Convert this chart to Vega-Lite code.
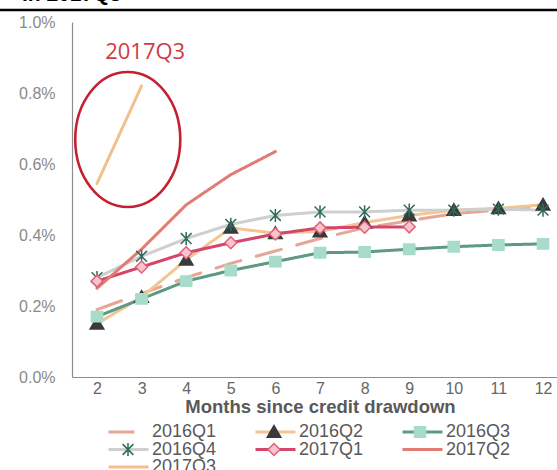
{
  "$schema": "https://vega.github.io/schema/vega-lite/v6.json",
  "width": 496,
  "height": 355,
  "autosize": {"type": "none"},
  "padding": {"left": 72, "top": 22, "right": 0, "bottom": 93},
  "background": "white",
  "config": {"view": {"stroke": null}, "font": "Liberation Sans"},
  "title": {
    "text": "in 2017Q3",
    "anchor": "start",
    "frame": "group",
    "font": "Liberation Sans",
    "fontSize": 21,
    "fontWeight": "bold",
    "color": "#000000",
    "baseline": "alphabetic",
    "offset": 3,
    "dx": -50,
    "dy": 16
  },
  "datasets": {
    "rates": [
      {"series": "2016Q1", "month": 2, "rate": 0.0019},
      {"series": "2016Q1", "month": 3, "rate": 0.00235},
      {"series": "2016Q1", "month": 4, "rate": 0.0028},
      {"series": "2016Q1", "month": 5, "rate": 0.0032},
      {"series": "2016Q1", "month": 6, "rate": 0.00355},
      {"series": "2016Q1", "month": 7, "rate": 0.0039},
      {"series": "2016Q1", "month": 8, "rate": 0.0042},
      {"series": "2016Q1", "month": 9, "rate": 0.0044},
      {"series": "2016Q1", "month": 10, "rate": 0.0046},
      {"series": "2016Q1", "month": 11, "rate": 0.0047},
      {"series": "2016Q1", "month": 12, "rate": 0.0048},
      {"series": "2016Q2", "month": 2, "rate": 0.0015},
      {"series": "2016Q2", "month": 3, "rate": 0.00225},
      {"series": "2016Q2", "month": 4, "rate": 0.0033},
      {"series": "2016Q2", "month": 5, "rate": 0.0042},
      {"series": "2016Q2", "month": 6, "rate": 0.00405},
      {"series": "2016Q2", "month": 7, "rate": 0.0041},
      {"series": "2016Q2", "month": 8, "rate": 0.00435},
      {"series": "2016Q2", "month": 9, "rate": 0.00455},
      {"series": "2016Q2", "month": 10, "rate": 0.0047},
      {"series": "2016Q2", "month": 11, "rate": 0.00475},
      {"series": "2016Q2", "month": 12, "rate": 0.00485},
      {"series": "2016Q3", "month": 2, "rate": 0.0017},
      {"series": "2016Q3", "month": 3, "rate": 0.0022},
      {"series": "2016Q3", "month": 4, "rate": 0.0027},
      {"series": "2016Q3", "month": 5, "rate": 0.003},
      {"series": "2016Q3", "month": 6, "rate": 0.00325},
      {"series": "2016Q3", "month": 7, "rate": 0.0035},
      {"series": "2016Q3", "month": 8, "rate": 0.00352},
      {"series": "2016Q3", "month": 9, "rate": 0.0036},
      {"series": "2016Q3", "month": 10, "rate": 0.00367},
      {"series": "2016Q3", "month": 11, "rate": 0.00372},
      {"series": "2016Q3", "month": 12, "rate": 0.00375},
      {"series": "2016Q4", "month": 2, "rate": 0.0028},
      {"series": "2016Q4", "month": 3, "rate": 0.0034},
      {"series": "2016Q4", "month": 4, "rate": 0.0039},
      {"series": "2016Q4", "month": 5, "rate": 0.0043},
      {"series": "2016Q4", "month": 6, "rate": 0.00455},
      {"series": "2016Q4", "month": 7, "rate": 0.00465},
      {"series": "2016Q4", "month": 8, "rate": 0.00465},
      {"series": "2016Q4", "month": 9, "rate": 0.0047},
      {"series": "2016Q4", "month": 10, "rate": 0.0047},
      {"series": "2016Q4", "month": 11, "rate": 0.00473},
      {"series": "2016Q4", "month": 12, "rate": 0.0047},
      {"series": "2017Q1", "month": 2, "rate": 0.0027},
      {"series": "2017Q1", "month": 3, "rate": 0.0031},
      {"series": "2017Q1", "month": 4, "rate": 0.0035},
      {"series": "2017Q1", "month": 5, "rate": 0.00378},
      {"series": "2017Q1", "month": 6, "rate": 0.00403},
      {"series": "2017Q1", "month": 7, "rate": 0.0042},
      {"series": "2017Q1", "month": 8, "rate": 0.00422},
      {"series": "2017Q1", "month": 9, "rate": 0.00423},
      {"series": "2017Q2", "month": 2, "rate": 0.0025},
      {"series": "2017Q2", "month": 3, "rate": 0.0036},
      {"series": "2017Q2", "month": 4, "rate": 0.00485},
      {"series": "2017Q2", "month": 5, "rate": 0.0057},
      {"series": "2017Q2", "month": 6, "rate": 0.00635},
      {"series": "2017Q3", "month": 2, "rate": 0.00545},
      {"series": "2017Q3", "month": 3, "rate": 0.0082}
    ]
  },
  "layer": [
    {
      "description": "Heavy black rule under the headline",
      "data": {"values": [{}]},
      "mark": {"type": "rule", "color": "#000000", "strokeWidth": 2.5, "clip": false},
      "encoding": {
        "x": {"datum": -0.3, "type": "quantitative", "scale": {"domain": [1.44, 12.56], "zero": false, "nice": false}},
        "x2": {"datum": 13},
        "y": {"datum": 0.01034, "type": "quantitative", "scale": {"domain": [0, 0.01], "zero": false, "nice": false}}
      }
    },
    {
      "data": {"name": "rates"},
      "mark": {"type": "line", "strokeCap": "round", "strokeJoin": "round"},
      "encoding": {
        "x": {
          "field": "month", "type": "quantitative",
          "scale": {"domain": [1.44, 12.56], "zero": false, "nice": false},
          "axis": {
            "values": [2, 3, 4, 5, 6, 7, 8, 9, 10, 11, 12],
            "title": "Months since credit drawdown",
            "titleFont": "Liberation Sans", "titleFontSize": 18.5, "titleFontWeight": "bold", "titleColor": "#595959", "titlePadding": 1,
            "labelFont": "Liberation Sans", "labelFontSize": 16, "labelColor": "#666666", "labelPadding": 3,
            "ticks": false, "grid": false, "domainColor": "#8c8c8c", "domainWidth": 1.2
          }
        },
        "y": {
          "field": "rate", "type": "quantitative",
          "scale": {"domain": [0, 0.01], "zero": false, "nice": false},
          "axis": {
            "values": [0, 0.002, 0.004, 0.006, 0.008, 0.01],
            "format": ".1%", "title": null,
            "labelFont": "Liberation Sans", "labelFontSize": 16, "labelColor": "#8a8a8a", "labelPadding": 17,
            "ticks": false, "grid": false, "domainColor": "#8c8c8c", "domainWidth": 1.2
          }
        },
        "color": {
          "field": "series", "type": "nominal",
          "scale": {
            "domain": ["2016Q1", "2016Q2", "2016Q3", "2016Q4", "2017Q1", "2017Q2", "2017Q3"],
            "range": ["#e6a595", "#f2c592", "#5e9a82", "#cfcfcf", "#d4466c", "#e07c73", "#f2c08e"]
          },
          "legend": {
            "orient": "none", "legendX": 35, "legendY": 402, "columns": 3, "direction": "horizontal", "title": null, "padding": 0,
            "symbolType": "stroke", "symbolSize": 1600, "symbolStrokeWidth": 3.5,
            "labelFont": "Liberation Sans", "labelFontSize": 18, "labelColor": "#595959", "labelOffset": 2,
            "clipHeight": 16, "rowPadding": -0.5, "columnPadding": 37
          }
        },
        "strokeDash": {
          "field": "series", "type": "nominal",
          "scale": {
            "domain": ["2016Q1", "2016Q2", "2016Q3", "2016Q4", "2017Q1", "2017Q2", "2017Q3"],
            "range": [[26, 16], [1, 0], [1, 0], [1, 0], [1, 0], [1, 0], [1, 0]]
          },
          "legend": null
        },
        "strokeWidth": {
          "field": "series", "type": "nominal",
          "scale": {
            "domain": ["2016Q1", "2016Q2", "2016Q3", "2016Q4", "2017Q1", "2017Q2", "2017Q3"],
            "range": [3, 3, 3.5, 3, 3.5, 4, 3.5]
          },
          "legend": null
        },
        "order": {"field": "month"}
      }
    },
    {
      "data": {"name": "rates"},
      "transform": [{"filter": "indexof(['2016Q2','2016Q3','2016Q4','2017Q1'], datum.series) >= 0"}],
      "mark": {"type": "point", "size": 1600, "strokeWidth": 1.5, "opacity": 1},
      "encoding": {
        "x": {"field": "month", "type": "quantitative", "scale": {"domain": [1.44, 12.56], "zero": false, "nice": false}},
        "y": {"field": "rate", "type": "quantitative", "scale": {"domain": [0, 0.01], "zero": false, "nice": false}},
        "shape": {
          "field": "series", "type": "nominal",
          "scale": {
            "domain": ["2016Q1", "2016Q2", "2016Q3", "2016Q4", "2017Q1", "2017Q2", "2017Q3", " "],
            "range": [
              "M0,0L0.01,0",
              "M0,-0.32L0.34,0.26L-0.34,0.26Z",
              "M-0.28,-0.26H0.28V0.26H-0.28Z",
              "M-0.27,-0.27L0.27,0.27M-0.27,0.27L0.27,-0.27M0,-0.33V0.33",
              "M0,-0.3L0.3,0L0,0.3L-0.3,0Z",
              "M0,0L0.01,0",
              "M0,0L0.01,0",
              "M0,0L0.01,0"
            ]
          },
          "legend": {
            "orient": "none", "legendX": 35, "legendY": 402, "columns": 3, "direction": "horizontal", "title": null, "padding": 0,
            "symbolSize": 1600, "symbolStrokeWidth": 1.5, "zindex": 2,
            "labelFont": "Liberation Sans", "labelFontSize": 18, "labelColor": "rgba(0,0,0,0)", "labelOffset": 2,
            "clipHeight": 16, "rowPadding": -0.5, "columnPadding": 37
          }
        },
        "fill": {
          "field": "series", "type": "nominal",
          "scale": {
            "domain": ["2016Q1", "2016Q2", "2016Q3", "2016Q4", "2017Q1", "2017Q2", "2017Q3", " "],
            "range": ["rgba(0,0,0,0)", "#3a3a3a", "#a8dcca", "rgba(0,0,0,0)", "#f7c4cc", "rgba(0,0,0,0)", "rgba(0,0,0,0)", "rgba(0,0,0,0)"]
          }
        },
        "stroke": {
          "field": "series", "type": "nominal",
          "scale": {
            "domain": ["2016Q1", "2016Q2", "2016Q3", "2016Q4", "2017Q1", "2017Q2", "2017Q3", " "],
            "range": ["rgba(0,0,0,0)", "#3a3a3a", "#a8dcca", "#2f6b5b", "#e0607c", "rgba(0,0,0,0)", "rgba(0,0,0,0)", "rgba(0,0,0,0)"]
          }
        }
      }
    },
    {
      "description": "Ellipse circling the newest cohort",
      "data": {"values": [{}]},
      "mark": {
        "type": "point",
        "shape": "M-0.778,0A0.778,1 0 1,0 0.778,0A0.778,1 0 1,0 -0.778,0Z",
        "size": 18225,
        "filled": false,
        "stroke": "#c42030",
        "strokeWidth": 2.6,
        "opacity": 1
      },
      "encoding": {
        "x": {"datum": 2.69, "type": "quantitative", "scale": {"domain": [1.44, 12.56], "zero": false, "nice": false}},
        "y": {"datum": 0.00669, "type": "quantitative", "scale": {"domain": [0, 0.01], "zero": false, "nice": false}}
      }
    },
    {
      "data": {"values": [{}]},
      "mark": {"type": "text", "text": "2017Q3", "font": "Open Sans", "fontSize": 22, "color": "#cf3b45", "align": "center", "baseline": "middle"},
      "encoding": {
        "x": {"datum": 3.08, "type": "quantitative", "scale": {"domain": [1.44, 12.56], "zero": false, "nice": false}},
        "y": {"datum": 0.00915, "type": "quantitative", "scale": {"domain": [0, 0.01], "zero": false, "nice": false}}
      }
    }
  ]
}
